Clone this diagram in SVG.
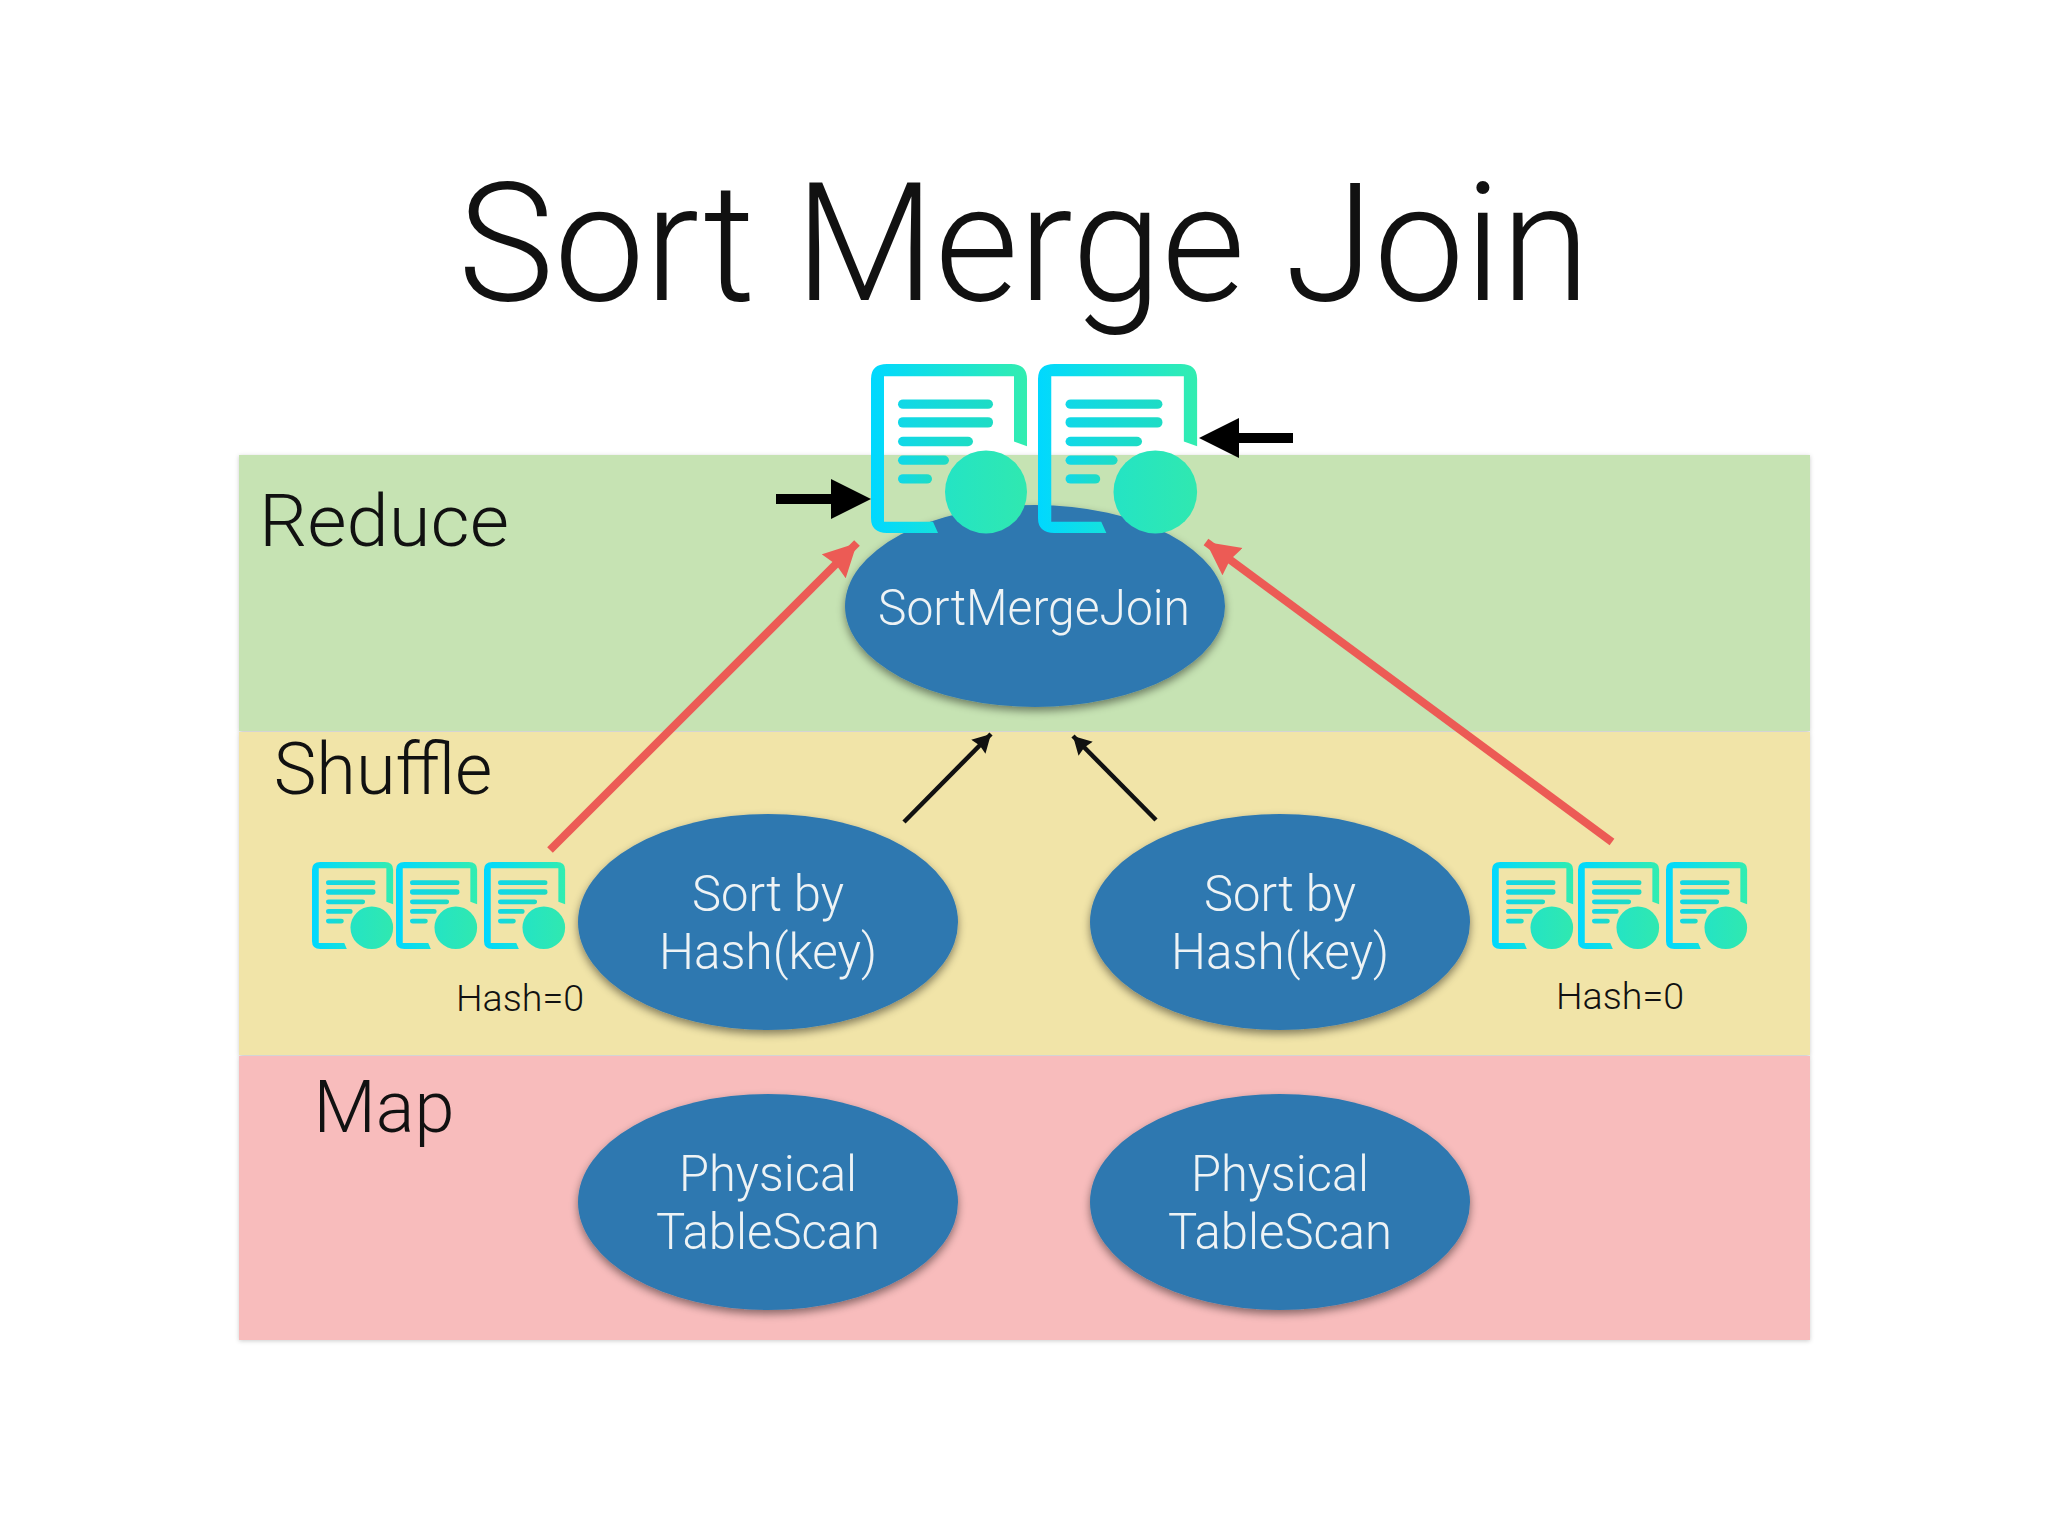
<svg xmlns="http://www.w3.org/2000/svg" xmlns:xlink="http://www.w3.org/1999/xlink" width="2048" height="1536" viewBox="0 0 2048 1536">
<style>
text{font-family:"Roboto","Liberation Sans",sans-serif;font-weight:300;text-anchor:middle}
.t{fill:#111;font-size:72px}
.n{fill:#eef3f5;font-size:50px}
.h{fill:#111;font-size:36px}
.e{fill:#2f78b0;filter:url(#sh)}
.red{stroke:#ec5b55;stroke-width:8;fill:none;marker-end:url(#mr)}
.blk{stroke:#111;stroke-width:4.5;fill:none;marker-end:url(#mb)}
</style>
<defs>
<linearGradient id="g1" x1="0" y1="0" x2="1" y2="0"><stop offset="0" stop-color="#00d8ff"/><stop offset="1" stop-color="#32edb0"/></linearGradient>
<linearGradient id="g2" x1="0" y1="0" x2="1" y2="0"><stop offset="0" stop-color="#10d8e8"/><stop offset="1" stop-color="#1edcc4"/></linearGradient>
<linearGradient id="g3" x1="0" y1="0" x2="1" y2="0"><stop offset="0" stop-color="#24e4c4"/><stop offset="1" stop-color="#30e8b0"/></linearGradient>
<filter id="sh" x="-10%" y="-10%" width="120%" height="125%"><feDropShadow dx="0" dy="4" stdDeviation="4" flood-color="#000" flood-opacity="0.45"/></filter>
<filter id="bs" x="-2%" y="-2%" width="104%" height="104%"><feDropShadow dx="0" dy="1" stdDeviation="2" flood-color="#000" flood-opacity="0.2"/></filter>
<marker id="mr" markerUnits="userSpaceOnUse" markerWidth="40" markerHeight="40" refX="33" refY="17" orient="auto"><path d="M0,0L33,17L0,34L3,17Z" fill="#ec5b55"/></marker>
<marker id="mb" markerUnits="userSpaceOnUse" markerWidth="24" markerHeight="24" refX="18" refY="10" orient="auto"><path d="M0,0L18,10L0,20L2,10Z" fill="#111"/></marker>
<g id="doc">
<path fill="url(#g1)" fill-rule="evenodd" d="M16,0H140Q156,0 156,16V88L143,83V13H13V169H62L67,181H16Q0,181 0,165V16Q0,0 16,0Z"/>
<g fill="url(#g2)">
<rect x="27" y="38" width="95" height="10" rx="5"/>
<rect x="27" y="57" width="95" height="11" rx="5"/>
<rect x="27" y="78" width="75" height="10" rx="5"/>
<rect x="27" y="98" width="51" height="10" rx="5"/>
<rect x="27" y="118" width="34" height="10" rx="5"/>
</g>
<ellipse cx="115" cy="137" rx="41" ry="44.5" fill="url(#g3)"/>
</g>
</defs>
<rect width="2048" height="1536" fill="#fff"/>
<text id="title" x="1024" y="300" style="font-size:166px" textLength="1132" lengthAdjust="spacingAndGlyphs" fill="#111">Sort Merge Join</text>
<g id="bands" filter="url(#bs)">
<rect id="band-reduce" x="239" y="455" width="1571" height="276" fill="#c6e3b3"/>
<rect id="band-shuffle" x="239" y="732" width="1571" height="323" fill="#f1e4a8"/>
<rect id="band-map" x="239" y="1056" width="1571" height="284" fill="#f8bcbc"/>
</g>
<text class="t" x="384" y="546" textLength="250" lengthAdjust="spacingAndGlyphs">Reduce</text>
<text class="t" x="383" y="794">Shuffle</text>
<text class="t" x="384" y="1132" textLength="141" lengthAdjust="spacingAndGlyphs">Map</text>
<g id="node-sortmergejoin"><ellipse class="e" cx="1035" cy="606" rx="190" ry="101"/><text class="n" x="1034" y="625" textLength="312" lengthAdjust="spacingAndGlyphs">SortMergeJoin</text></g>
<g id="node-sort-left"><ellipse class="e" cx="768" cy="922" rx="190" ry="108"/><text class="n" x="768" y="911" textLength="152" lengthAdjust="spacingAndGlyphs">Sort by</text><text class="n" x="768" y="969" textLength="218" lengthAdjust="spacingAndGlyphs">Hash(key)</text></g>
<g id="node-sort-right"><ellipse class="e" cx="1280" cy="922" rx="190" ry="108"/><text class="n" x="1280" y="911" textLength="152" lengthAdjust="spacingAndGlyphs">Sort by</text><text class="n" x="1280" y="969" textLength="218" lengthAdjust="spacingAndGlyphs">Hash(key)</text></g>
<g id="node-scan-left"><ellipse class="e" cx="768" cy="1202" rx="190" ry="108"/><text class="n" x="768" y="1191" textLength="178" lengthAdjust="spacingAndGlyphs">Physical</text><text class="n" x="768" y="1249" textLength="224" lengthAdjust="spacingAndGlyphs">TableScan</text></g>
<g id="node-scan-right"><ellipse class="e" cx="1280" cy="1202" rx="190" ry="108"/><text class="n" x="1280" y="1191" textLength="178" lengthAdjust="spacingAndGlyphs">Physical</text><text class="n" x="1280" y="1249" textLength="224" lengthAdjust="spacingAndGlyphs">TableScan</text></g>
<g id="connectors">
<path class="red" d="M550,850L857,543"/>
<path class="red" d="M1612,842L1206,542"/>
<path class="blk" d="M904,822L991,734"/>
<path class="blk" d="M1156,820L1073,736"/>
<path d="M776,494H831V479L871,499L831,519V504H776Z" fill="#000"/>
<path d="M1293,433H1239V418L1199,438L1239,458V443H1293Z" fill="#000"/>
</g>
<g id="icons-top">
<use xlink:href="#doc" href="#doc" transform="translate(871,364) scale(1,.934)"/>
<use xlink:href="#doc" href="#doc" transform="translate(1038,364) scale(1.02,.934)"/>
</g>
<g id="icons-left">
<use xlink:href="#doc" href="#doc" transform="translate(312,862) scale(.52,.48)"/>
<use xlink:href="#doc" href="#doc" transform="translate(396,862) scale(.52,.48)"/>
<use xlink:href="#doc" href="#doc" transform="translate(484,862) scale(.52,.48)"/>
</g>
<g id="icons-right">
<use xlink:href="#doc" href="#doc" transform="translate(1492,862) scale(.52,.48)"/>
<use xlink:href="#doc" href="#doc" transform="translate(1578,862) scale(.52,.48)"/>
<use xlink:href="#doc" href="#doc" transform="translate(1666,862) scale(.52,.48)"/>
</g>
<text class="h" x="520" y="1011" textLength="128" lengthAdjust="spacingAndGlyphs">Hash=0</text>
<text class="h" x="1620" y="1009" textLength="128" lengthAdjust="spacingAndGlyphs">Hash=0</text>
</svg>
